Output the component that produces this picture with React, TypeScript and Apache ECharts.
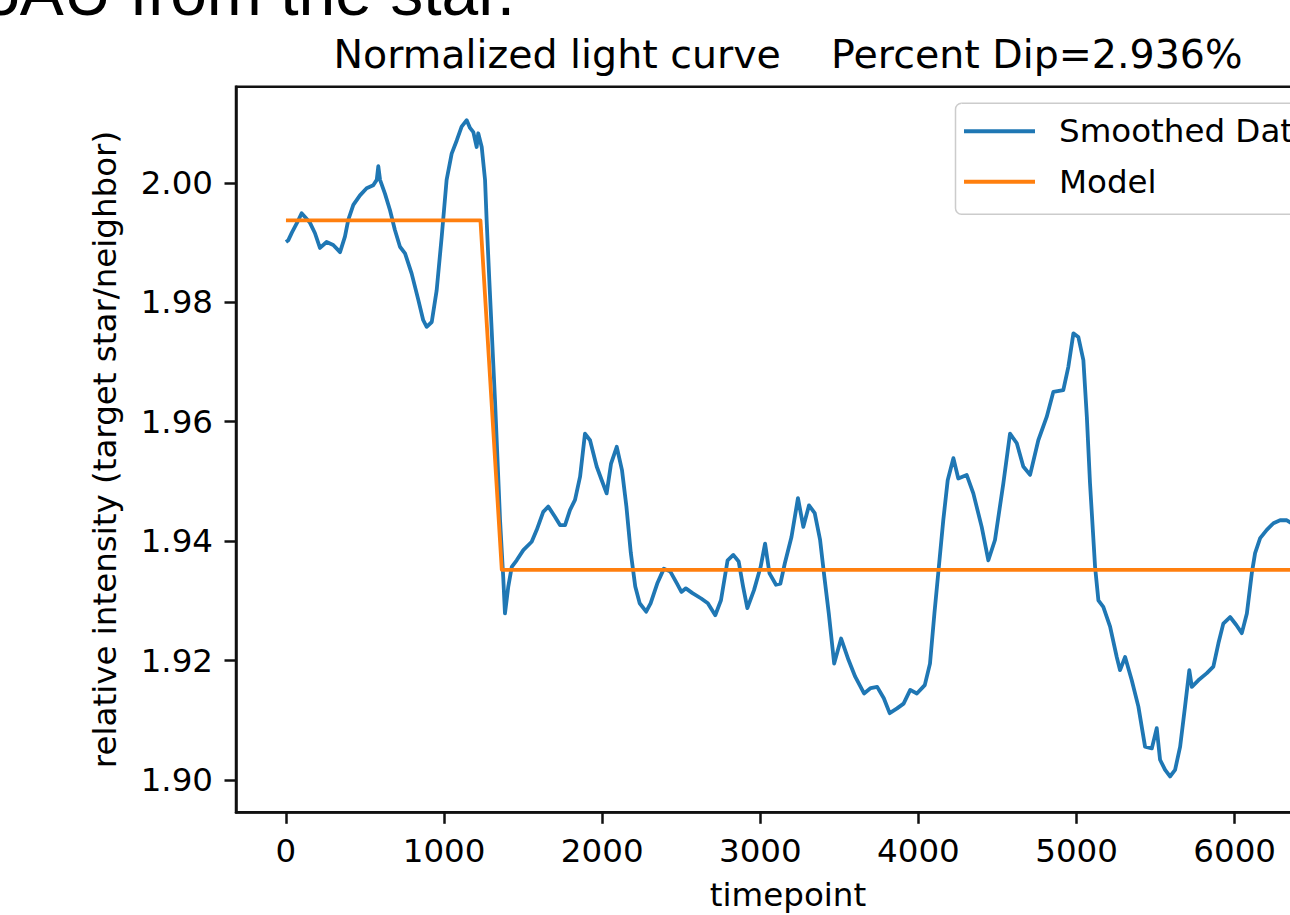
import React, { useEffect, useRef } from "react";
import * as echarts from "echarts";

// Smoothed light-curve samples: [timepoint, relative intensity]
const SMOOTHED_DATA: [number, number][] = [
  [0, 1.9901], [15, 1.9904], [38, 1.9917], [68, 1.9932], [99, 1.9949], [126, 1.9941],
  [152, 1.9933], [183, 1.9916], [215, 1.9891], [257, 1.9901], [299, 1.9896], [342, 1.9884],
  [373, 1.991], [394, 1.9938], [426, 1.9963], [468, 1.9979], [510, 1.9991], [552, 1.9996],
  [574, 2.0005], [584, 2.0028], [595, 2.0005], [626, 1.9982], [658, 1.9954], [689, 1.9921],
  [721, 1.9893], [753, 1.9882], [795, 1.9848], [837, 1.9804], [868, 1.977], [890, 1.9759],
  [922, 1.9767], [953, 1.982], [985, 1.991], [1016, 2.0005], [1048, 2.0049], [1080, 2.0071],
  [1111, 2.0094], [1143, 2.0105], [1164, 2.0092], [1185, 2.0085], [1206, 2.006], [1216, 2.0083],
  [1238, 2.006], [1259, 2.0005], [1269, 1.9938], [1286, 1.9837], [1322, 1.9636], [1354, 1.9435],
  [1374, 1.934], [1385, 1.9279], [1406, 1.9324], [1428, 1.9357], [1459, 1.9368], [1501, 1.9385],
  [1554, 1.9399], [1586, 1.9419], [1627, 1.9449], [1659, 1.9458], [1701, 1.9441], [1733, 1.9427],
  [1765, 1.9427], [1796, 1.9452], [1828, 1.9469], [1860, 1.9508], [1891, 1.958], [1923, 1.9569],
  [1965, 1.9525], [1997, 1.9502], [2028, 1.948], [2056, 1.953], [2092, 1.9558], [2125, 1.9519],
  [2153, 1.9458], [2181, 1.938], [2209, 1.9324], [2237, 1.9296], [2278, 1.9282], [2306, 1.9296],
  [2348, 1.9329], [2390, 1.9354], [2431, 1.9349], [2473, 1.9329], [2501, 1.9315], [2529, 1.9321],
  [2571, 1.9313], [2626, 1.9304], [2668, 1.9296], [2715, 1.9276], [2751, 1.9301], [2793, 1.9368],
  [2829, 1.9377], [2863, 1.9366], [2891, 1.9324], [2918, 1.9288], [2960, 1.9318], [3002, 1.9357],
  [3030, 1.9396], [3058, 1.9346], [3099, 1.9327], [3127, 1.9329], [3155, 1.9363], [3197, 1.9407],
  [3238, 1.9472], [3272, 1.9424], [3308, 1.946], [3344, 1.9447], [3378, 1.9402], [3405, 1.934],
  [3433, 1.9279], [3467, 1.9195], [3511, 1.9237], [3558, 1.9201], [3600, 1.9173], [3656, 1.9145],
  [3698, 1.9154], [3739, 1.9156], [3781, 1.9137], [3818, 1.9112], [3865, 1.912], [3906, 1.9128],
  [3948, 1.9151], [3990, 1.9145], [4040, 1.9159], [4073, 1.9195], [4101, 1.9279], [4129, 1.9357],
  [4157, 1.9435], [4185, 1.9502], [4221, 1.9539], [4252, 1.9505], [4305, 1.9511], [4347, 1.948],
  [4400, 1.9424], [4442, 1.9368], [4484, 1.9402], [4537, 1.9497], [4579, 1.958], [4622, 1.9564],
  [4663, 1.9525], [4706, 1.9511], [4758, 1.9569], [4811, 1.9608], [4853, 1.965], [4916, 1.9653],
  [4948, 1.9692], [4980, 1.9748], [5011, 1.9742], [5043, 1.9703], [5065, 1.9608], [5085, 1.9497],
  [5117, 1.9357], [5138, 1.9301], [5169, 1.929], [5212, 1.9257], [5254, 1.9206], [5275, 1.9184],
  [5307, 1.9206], [5349, 1.9167], [5391, 1.9123], [5433, 1.9056], [5476, 1.9053], [5507, 1.9087],
  [5528, 1.9034], [5560, 1.9017], [5591, 1.9006], [5623, 1.9017], [5655, 1.9056], [5686, 1.9123],
  [5713, 1.9184], [5729, 1.9156], [5770, 1.9167], [5824, 1.9179], [5865, 1.919], [5897, 1.9229],
  [5928, 1.9262], [5971, 1.9273], [6009, 1.926], [6045, 1.9246], [6077, 1.9279], [6108, 1.9346],
  [6129, 1.938], [6161, 1.9405], [6203, 1.9419], [6245, 1.943], [6287, 1.9435], [6330, 1.9435],
  [6360, 1.943],
];

// Box-shaped transit model
const MODEL_TIMES = [0, 1230, 1365, 6360];
const MODEL_VALUES = [1.9937, 1.9937, 1.9352, 1.9352];

const X_TICKS = [0, 1000, 2000, 3000, 4000, 5000, 6000];
const Y_TICKS = [1.9, 1.92, 1.94, 1.96, 1.98, 2.0];
const SERIES_NAMES = ["Smoothed Data", "Model"];
const TITLE_TEXT = "Normalized light curve\u00a0\u00a0\u00a0\u00a0Percent Dip=2.936%";
const X_NAME = "timepoint";
const Y_NAME = "relative intensity (target star/neighbor)";
const SLIDE_TEXT = "5AU from the star.";

export default function App() {
  const ref = useRef<HTMLDivElement>(null);

  useEffect(() => {
    if (!ref.current) return;
    const chart = echarts.init(ref.current, null, { renderer: "svg" });
    const font = "'DejaVu Sans', sans-serif";
    const fs = 32.5;
    const ink = "#000000";

    chart.setOption({
      animation: false,
      backgroundColor: "#ffffff",
      title: {
        text: TITLE_TEXT,
        left: 788,
        top: 33.6,
        textAlign: "center",
        padding: 0,
        textStyle: { fontFamily: font, fontSize: 39.5, fontWeight: "normal", color: ink },
      },
      legend: {
        data: SERIES_NAMES.map((n) => ({ name: n, icon: "rect" })),
        orient: "vertical",
        left: 955.5,
        top: 103.3,
        itemWidth: 71,
        itemHeight: 4,
        itemGap: 17.5,
        padding: [11.5, 20, 16, 8.5],
        backgroundColor: "rgba(255,255,255,0.8)",
        borderColor: "#cccccc",
        borderWidth: 1.5,
        borderRadius: 6,
        selectedMode: false,
        textStyle: { fontFamily: font, fontSize: fs, color: ink, padding: [0, 0, 0, 19] },
      },
      graphic: [
        {
          type: "text",
          x: 515,
          y: 25,
          silent: true,
          style: {
            text: SLIDE_TEXT,
            fontFamily: "'Liberation Sans', Arial, sans-serif",
            fontSize: 66,
            fill: "#000000",
            align: "right",
            textAlign: "right",
            verticalAlign: "bottom",
            textVerticalAlign: "bottom",
          },
        },
      ],
      grid: {
        left: 236,
        top: 86.7,
        width: 1104,
        height: 725.6,
        show: true,
        borderColor: "#111111",
        borderWidth: 2.5,
        backgroundColor: "transparent",
        containLabel: false,
        outerBoundsMode: "none",
      },
      xAxis: {
        type: "value",
        min: -316,
        max: 6666,
        name: X_NAME,
        nameLocation: "middle",
        nameGap: 66,
        nameTextStyle: { fontFamily: font, fontSize: fs, color: ink },
        axisLine: { show: true, onZero: false, lineStyle: { color: "#111111", width: 2.5 } },
        axisTick: {
          show: true,
          inside: false,
          length: 11.5,
          customValues: X_TICKS,
          lineStyle: { color: "#111111", width: 2.5 },
        },
        axisLabel: {
          customValues: X_TICKS,
          margin: 22,
          fontFamily: font,
          fontSize: fs,
          color: ink,
          formatter: (v: number) => String(Math.round(v)),
        },
        splitLine: { show: false },
      },
      yAxis: {
        type: "value",
        min: 1.8946,
        max: 2.0161,
        name: Y_NAME,
        nameLocation: "middle",
        nameRotate: 90,
        nameGap: 115,
        nameTextStyle: { fontFamily: font, fontSize: fs, color: ink },
        axisLine: { show: true, onZero: false, lineStyle: { color: "#111111", width: 2.5 } },
        axisTick: {
          show: true,
          inside: false,
          length: 11.5,
          customValues: Y_TICKS,
          lineStyle: { color: "#111111", width: 2.5 },
        },
        axisLabel: {
          customValues: Y_TICKS,
          margin: 23,
          fontFamily: font,
          fontSize: fs,
          color: ink,
          formatter: (v: number) => v.toFixed(2),
        },
        splitLine: { show: false },
      },
      series: [
        {
          name: SERIES_NAMES[0],
          type: "line",
          data: SMOOTHED_DATA,
          showSymbol: false,
          symbol: "none",
          clip: true,
          color: "#1f77b4",
          lineStyle: { color: "#1f77b4", width: 3.8, join: "round" },
          z: 2,
        },
        {
          name: SERIES_NAMES[1],
          type: "line",
          data: MODEL_TIMES.map((t, i) => [t, MODEL_VALUES[i]]),
          showSymbol: false,
          symbol: "none",
          clip: true,
          color: "#ff7f0e",
          lineStyle: { color: "#ff7f0e", width: 3.8, join: "round" },
          z: 3,
        },
      ],
    });

    return () => chart.dispose();
  }, []);

  return (
    <div
      style={{
        position: "fixed",
        left: 0,
        top: 0,
        width: 1290,
        height: 915,
        overflow: "hidden",
        background: "#ffffff",
      }}
    >
      <div ref={ref} style={{ width: 1450, height: 915 }} />
    </div>
  );
}
